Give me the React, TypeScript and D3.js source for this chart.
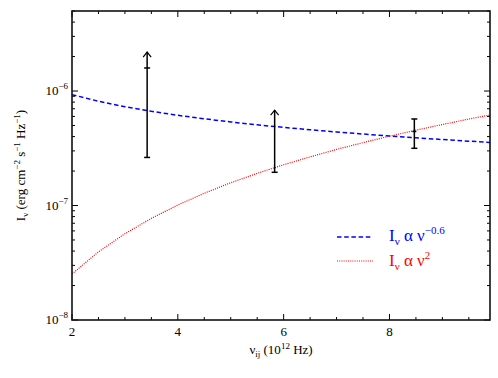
import React from 'react';
import * as d3 from 'd3';

// power-law curves
const nuGrid = [2, 2.5, 3, 3.5, 4, 4.5, 5, 5.5, 6, 6.5, 7, 7.5, 8, 8.5, 9, 9.5, 9.9];
const flatFlux = [9.3e-7, 8.14e-7, 7.29e-7, 6.65e-7, 6.14e-7, 5.72e-7, 5.37e-7, 5.07e-7, 4.81e-7,
  4.59e-7, 4.39e-7, 4.21e-7, 4.05e-7, 3.9e-7, 3.77e-7, 3.65e-7, 3.56e-7];
const steepFlux = [2.52e-8, 3.94e-8, 5.67e-8, 7.72e-8, 1.01e-7, 1.28e-7, 1.58e-7, 1.91e-7, 2.27e-7,
  2.66e-7, 3.09e-7, 3.54e-7, 4.03e-7, 4.55e-7, 5.1e-7, 5.69e-7, 6.17e-7];

// measurements
const obsNu = [3.42, 5.83, 8.47];
const obsLow = [2.63e-7, 1.95e-7, 3.16e-7];
const obsHigh: (number | null)[] = [1.59e-6, null, 5.7e-7];
const obsArrow: (number | null)[] = [2.19e-6, 6.8e-7, null];
const obsMid: (number | null)[] = [null, null, 4.43e-7];

const xTicks = [2, 4, 6, 8];

const W = 498, H = 378;
const m = {left: 72, right: 8, top: 11, bottom: 58};
const font = '"Liberation Serif", "Times New Roman", serif';

export default function App() {
  const x = d3.scaleLinear().domain([2, 9.9]).range([m.left, W - m.right]);
  const y = d3.scaleLog().domain([1e-8, 5e-6]).range([H - m.bottom, m.top]);
  const [x0, x1] = x.range();
  const [y0, y1] = y.range();

  const line = d3.line<number>()
    .x((_, i) => x(nuGrid[i]))
    .y(d => y(d));

  const minorX = d3.range(2.5, 9.9, 0.5).filter(v => !xTicks.includes(v));
  const yTicks = y.ticks();
  const isDecade = (v: number) => Math.abs(Math.log10(v) - Math.round(Math.log10(v))) < 1e-6;

  return (
    <svg width={W} height={H} style={{position: 'absolute', left: 0, top: 0, background: '#fff'}}
      fontFamily={font}>
      <defs>
        <clipPath id="plot">
          <rect x={x0} y={y1} width={x1 - x0} height={y0 - y1} />
        </clipPath>
      </defs>

      <g clipPath="url(#plot)">
        <path d={line(flatFlux) || ''} fill="none" stroke="#0000ff" strokeWidth={1.5} strokeDasharray="4.5,2.7" />
        <path d={line(steepFlux) || ''} fill="none" stroke="#ff0000" strokeWidth={1.2} strokeDasharray="1,1.2" />
      </g>

      {/* error bars */}
      {obsNu.map((nu, i) => {
        const cx = x(nu);
        const top = obsArrow[i] ?? obsHigh[i] ?? obsLow[i];
        return (
          <g key={i} stroke="#000" strokeWidth={1.5} fill="none">
            <line x1={cx} x2={cx} y1={y(obsLow[i])} y2={y(top)} />
            <line x1={cx - 3} x2={cx + 3} y1={y(obsLow[i])} y2={y(obsLow[i])} />
            {obsHigh[i] != null && (
              <line x1={cx - 3} x2={cx + 3} y1={y(obsHigh[i] as number)} y2={y(obsHigh[i] as number)} />
            )}
            {obsMid[i] != null && (
              <line x1={cx - 2} x2={cx + 2} y1={y(obsMid[i] as number)} y2={y(obsMid[i] as number)} />
            )}
            {obsArrow[i] != null && (
              <path d={`M${cx - 4},${y(obsArrow[i] as number) + 5}L${cx},${y(obsArrow[i] as number)}L${cx + 4},${y(obsArrow[i] as number) + 5}`}
                strokeWidth={1.2} />
            )}
          </g>
        );
      })}

      {/* ticks */}
      <g stroke="#000" strokeWidth={1}>
        {xTicks.map(v => (
          <g key={'xm' + v}>
            <line x1={x(v)} x2={x(v)} y1={y0} y2={y0 - 6} />
            <line x1={x(v)} x2={x(v)} y1={y1} y2={y1 + 6} />
          </g>
        ))}
        {minorX.map(v => (
          <g key={'xn' + v}>
            <line x1={x(v)} x2={x(v)} y1={y0} y2={y0 - 3} />
            <line x1={x(v)} x2={x(v)} y1={y1} y2={y1 + 3} />
          </g>
        ))}
        {yTicks.map(v => {
          const len = isDecade(v) ? 6 : 3;
          return (
            <g key={'y' + v}>
              <line x1={x0} x2={x0 + len} y1={y(v)} y2={y(v)} />
              <line x1={x1} x2={x1 - len} y1={y(v)} y2={y(v)} />
            </g>
          );
        })}
      </g>

      <rect x={x0} y={y1} width={x1 - x0} height={y0 - y1} fill="none" stroke="#111" strokeWidth={1.6} />

      {/* tick labels */}
      <g fontSize={13} fill="#000">
        {xTicks.map(v => (
          <text key={'xl' + v} x={x(v)} y={y0 + 16} textAnchor="middle">{v}</text>
        ))}
        {yTicks.filter(isDecade).map(v => (
          <text key={'yl' + v} x={x0 - 4} y={y(v) + 4} textAnchor="end">
            10<tspan fontSize={9} dy={-6}>{'\u2212' + Math.abs(Math.round(Math.log10(v)))}</tspan>
          </text>
        ))}
      </g>

      {/* axis titles */}
      <text x={(x0 + x1) / 2} y={y0 + 34} textAnchor="middle" fontSize={13}>
        ν<tspan fontSize={9} dy={3}>ij</tspan>
        <tspan dy={-3}> (10</tspan><tspan fontSize={9} dy={-5}>12</tspan><tspan dy={5}> Hz)</tspan>
      </text>
      <text transform={`translate(25,${(y0 + y1) / 2}) rotate(-90)`} textAnchor="middle" fontSize={13}>
        I<tspan fontSize={9} dy={3}>ν</tspan>
        <tspan dy={-3}> (erg cm</tspan><tspan fontSize={9} dy={-5}>−2</tspan>
        <tspan dy={5}> s</tspan><tspan fontSize={9} dy={-5}>−1</tspan>
        <tspan dy={5}> Hz</tspan><tspan fontSize={9} dy={-5}>−1</tspan><tspan dy={5}>)</tspan>
      </text>

      {/* legend */}
      <g>
        <line x1={337} x2={373} y1={237} y2={237} stroke="#0000ff" strokeWidth={1.5} strokeDasharray="4.5,2.7" />
        <text x={389} y={241} fontSize={17} fill="#0000ff">
          I<tspan fontSize={11} dy={4}>ν</tspan><tspan dy={-4}> α ν</tspan>
          <tspan fontSize={11} dy={-7}>−0.6</tspan>
        </text>
        <line x1={337} x2={373} y1={261} y2={261} stroke="#ff0000" strokeWidth={1.2} strokeDasharray="1,1.2" />
        <text x={389} y={266} fontSize={17} fill="#ff0000">
          I<tspan fontSize={11} dy={4}>ν</tspan><tspan dy={-4}> α ν</tspan>
          <tspan fontSize={11} dy={-7}>2</tspan>
        </text>
      </g>
    </svg>
  );
}
